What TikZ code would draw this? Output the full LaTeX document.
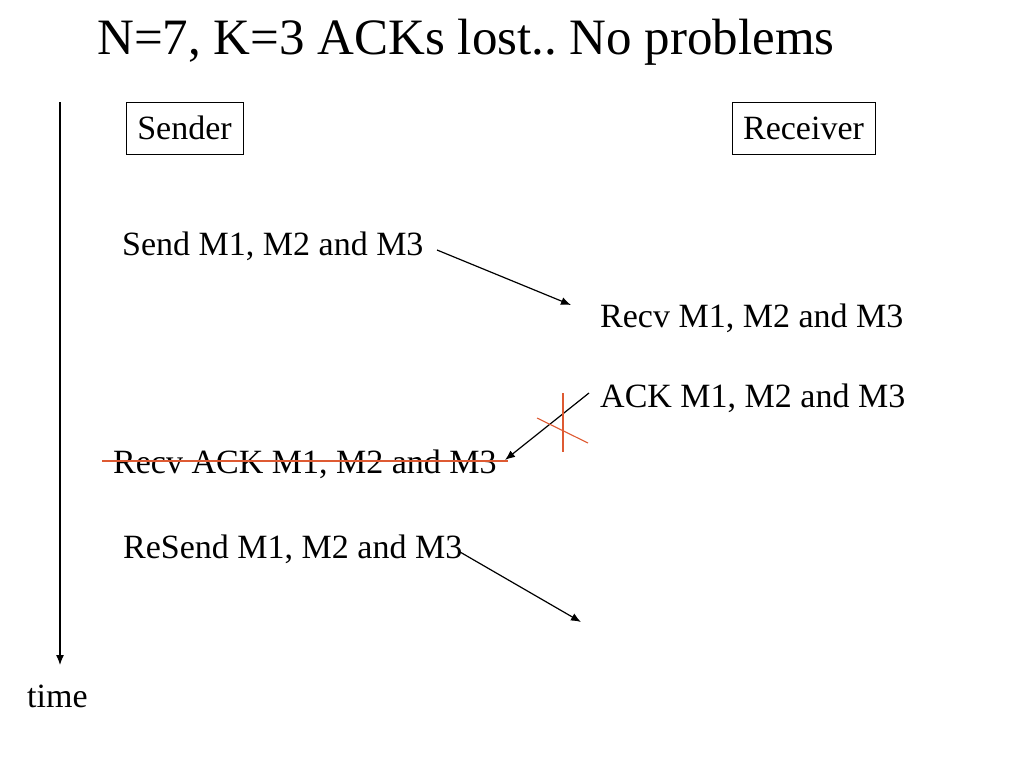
\documentclass[tikz,border=0pt]{standalone}
\usepackage{fontspec}
\setmainfont{Liberation Serif}
\usetikzlibrary{arrows.meta}
\definecolor{lossred}{RGB}{222,90,50}
\tikzset{
	lbl/.style={anchor=base west,inner sep=0pt,font=\fontsize{34}{40}\selectfont},
	party/.style={draw,line width=1pt,font=\fontsize{34}{40}\selectfont,minimum height=52pt,inner sep=0pt},
	msg/.style={-{Latex[length=10pt,width=8pt]},line width=1.2pt},
	lost/.style={draw=lossred,line width=1.1pt}
}
\begin{document}
\frenchspacing
\begin{tikzpicture}[x=1pt,y=-1pt]
	\useasboundingbox (0,0) rectangle (1024,768);
	\node[anchor=base west,inner sep=0pt,font=\fontsize{51}{60}\selectfont] at (97,55) (title) {N=7, K=3 ACKs lost.. No problems};
	\node[party,minimum width=117pt] at (184.5,128) (sender) {Sender};
	\node[party,minimum width=143pt] at (803.5,128) (receiver) {Receiver};
	\node[lbl] at (122,255) (send) {Send M1, M2 and M3};
	\node[lbl] at (600,327) (recv) {Recv M1, M2 and M3};
	\node[lbl] at (600,407) (ack) {ACK M1, M2 and M3};
	\node[lbl] at (113,473) (recvack) {Recv ACK M1, M2 and M3};
	\node[lbl] at (123,558) (resend) {ReSend M1, M2 and M3};
	\node[lbl] at (27,707) (time) {time};
	\coordinate (t0) at (60,102);
	\coordinate (t1) at (60,665);
	\coordinate (s0) at (437,250);
	\coordinate (s1) at (571,305);
	\coordinate (a0) at (589,393);
	\coordinate (a1) at (505,460);
	\coordinate (r0) at (460,552);
	\coordinate (r1) at (581,622);
	\draw[msg] (t0) -- (t1);
	\draw[msg] (s0) -- (s1);
	\draw[msg] (a0) -- (a1);
	\draw[msg] (r0) -- (r1);
	% lost ack
	\draw[lost] (563,393) -- (563,452);
	\draw[lost] (537,418) -- (588,443);
	\draw[lost] (102,461) -- (508,461);
\end{tikzpicture}
\end{document}
